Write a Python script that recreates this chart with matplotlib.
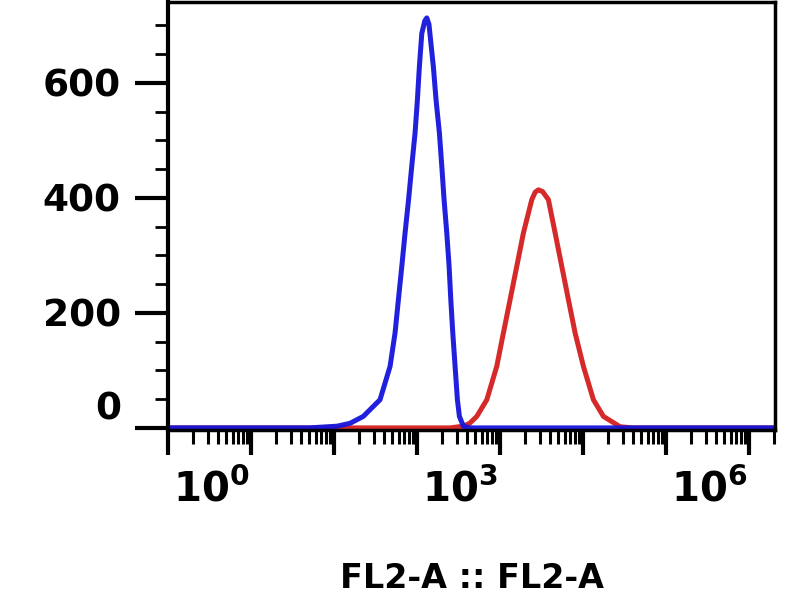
import matplotlib
matplotlib.use("Agg")
import matplotlib.pyplot as plt
import matplotlib.ticker as ticker
import matplotlib.transforms as mtransforms

# FL2-A intensity (linear units) and event counts
blue_x = [0.1, 5, 10.9, 15.6, 22.5, 35.8, 47.3, 54.3, 59.6, 65.5, 71.7, 79, 86.3,
          94.6, 100.9, 106.6, 114, 124, 131, 139, 157.2, 169.4, 185.8, 198.6, 211.5,
          228, 243.2, 254.9, 269.4, 287.1, 306.2, 323.6, 361.4, 435, 2.1e6]
blue_y = [0, 0, 3, 8, 20, 49, 107, 165, 223, 281, 339, 397, 455,
          513, 570, 628, 686, 708, 713, 702, 628, 570, 513, 455, 397,
          339, 281, 223, 165, 107, 49, 20, 3, 0, 0]

red_x = [0.1, 250, 361, 430, 524, 692, 912, 1096, 1320, 1589, 1910, 2410, 2650, 2892,
         3250, 3819, 4603, 5535, 6653, 8017, 10090, 13310, 17570, 27910, 40000, 2.1e6]
red_y = [0, 0, 3, 8, 20, 49, 107, 165, 223, 281, 339, 397, 410, 414,
         411, 397, 339, 281, 223, 165, 107, 49, 20, 2, 0, 0]

x_labels = {1: r"$\mathbf{10^{0}}$", 1e3: r"$\mathbf{10^{3}}$", 1e6: r"$\mathbf{10^{6}}$"}

fig = plt.figure(figsize=(8, 6), dpi=100)
ax = fig.add_axes([0.21, 0.283, 0.759, 0.714])

ax.plot(red_x, red_y, color="#d41e1e", linewidth=3.6, alpha=0.95)
ax.plot(blue_x, blue_y, color="#1414dc", linewidth=3.6, alpha=0.95)

ax.set_xscale("log")
ax.set_xlim(0.1, 2.06e6)
ax.set_ylim(-4, 741)

# y axis
ax.yaxis.set_major_locator(ticker.MultipleLocator(200))
ax.yaxis.set_minor_locator(ticker.MultipleLocator(50))
ax.tick_params(axis="y", which="major", direction="out", length=24, width=3,
               labelsize=27, pad=10)
ax.tick_params(axis="y", which="minor", direction="out", length=9.5, width=2)
for lab in ax.get_yticklabels():
    lab.set_fontweight("bold")
    if lab.get_text() == "0":
        lab.set_verticalalignment("bottom")

# x axis
ax.xaxis.set_major_locator(ticker.LogLocator(base=10, numticks=20))
ax.xaxis.set_minor_locator(ticker.LogLocator(base=10, subs=range(2, 10), numticks=20))
ax.xaxis.set_minor_formatter(ticker.NullFormatter())
ax.xaxis.set_major_formatter(ticker.FuncFormatter(
    lambda v, pos: next((t for k, t in x_labels.items() if abs(v / k - 1) < 1e-6), "")))
ax.tick_params(axis="x", which="major", direction="out", length=18, width=3,
               labelsize=29, pad=10)
ax.tick_params(axis="x", which="minor", direction="out", length=10, width=2.2)
shift = mtransforms.ScaledTranslation(-0.40, 0, fig.dpi_scale_trans)
for lab in ax.get_xticklabels():
    lab.set_transform(lab.get_transform() + shift)

ax.set_xlabel("FL2-A :: FL2-A", fontsize=24, fontweight="bold", labelpad=37)

for side in ["top", "right", "bottom"]:
    ax.spines[side].set_linewidth(2.5)
ax.spines["left"].set_linewidth(3)

fig.savefig("out.png", dpi=100)
